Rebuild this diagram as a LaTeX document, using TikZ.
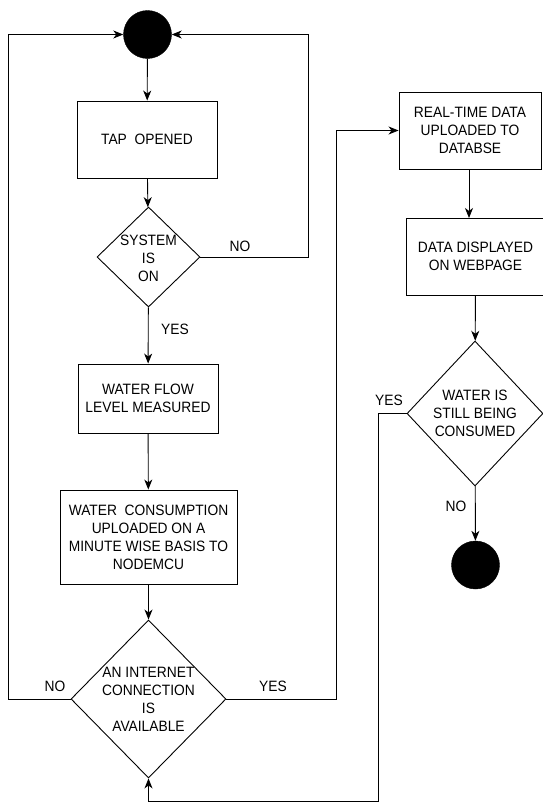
\documentclass[tikz,border=0pt]{standalone}
\usepackage{fontspec}
\setmainfont{Liberation Sans}[FakeStretch=0.92]
\usetikzlibrary{shapes.geometric,arrows.meta}
\begin{document}
\begin{tikzpicture}[x=1pt,y=-1pt,
  every node/.style={font=\fontsize{15}{18}\selectfont, text=black},
  line/.style={draw=black, line width=0.9pt},
  arr/.style={line, -{Stealth[length=10pt,width=8pt,inset=3pt]}},
  procbox/.style={draw=black, line width=0.9pt, rectangle, align=center, inner sep=0pt},
  decide/.style={draw=black, line width=0.9pt, diamond, inner sep=0pt},
  dot/.style={circle, fill=black, draw=black, minimum size=48pt, inner sep=0pt},
  lbl/.style={inner sep=0pt}]
\useasboundingbox (0,0) rectangle (542,803);
\fill[white] (0,0) rectangle (542,803);

% nodes
\node[dot] (start) at (147.5,34.5) {};
\node[procbox, minimum width=140pt, minimum height=77pt] (tap) at (147,139.5) {TAP\ \ OPENED};
\node[decide, minimum width=103pt, minimum height=100pt] (sys) at (148.5,257) {};
\node[align=center, inner sep=0pt] (syst) at (148.5,258) {SYSTEM\\IS\\ON};
\node[procbox, minimum width=140pt, minimum height=69pt] (flow) at (148,398.5) {WATER FLOW\\LEVEL MEASURED};
\node[procbox, minimum width=177pt, minimum height=94pt] (cons) at (148.5,537) {WATER\ \ CONSUMPTION\\UPLOADED ON A\\MINUTE WISE BASIS TO\\NODEMCU};
\node[decide, minimum width=155pt, minimum height=158pt] (inet) at (148.5,699) {};
\node[align=center, inner sep=0pt] (inett) at (148.5,699.5) {AN INTERNET\\CONNECTION\\IS\\AVAILABLE};
\node[procbox, minimum width=142pt, minimum height=77pt] (real) at (470,130.5) {REAL-TIME DATA\\UPLOADED TO\\DATABSE};
\node[procbox, minimum width=139pt, minimum height=77pt] (disp) at (475.5,256.5) {DATA DISPLAYED\\ON WEBPAGE};
\node[decide, minimum width=136pt, minimum height=145pt] (wdia) at (475,413.5) {};
\node[align=center, inner sep=0pt] (wdiat) at (475,413.5) {WATER IS\\STILL BEING\\CONSUMED};
\node[dot] (end) at (475.5,565) {};

% coordinates
\coordinate (c1) at (308,257);
\coordinate (c2) at (308,34.5);
\coordinate (c3) at (8,699);
\coordinate (c4) at (8,34.5);
\coordinate (c5) at (336,699);
\coordinate (c6) at (336,130.5);
\coordinate (c7) at (378,413.5);
\coordinate (c8) at (378,801.5);
\coordinate (c9) at (148.5,801.5);

% connectors
\draw[arr] (start) -- (tap);
\draw[arr] (tap) -- (sys);
\draw[arr] (sys) -- (flow);
\draw[arr] (flow) -- (cons);
\draw[arr] (cons) -- (inet);
\draw[arr] (sys.east) -- (c1) -- (c2) -- (start.east);
\draw[arr] (inet.west) -- (c3) -- (c4) -- (start.west);
\draw[arr] (inet.east) -- (c5) -- (c6) -- (real.west);
\draw[arr] (real.south -| 469,0) -- (469,218);
\draw[arr] (disp) -- (wdia);
\draw[arr] (wdia.west) -- (c7) -- (c8) -- (c9) -- (inet.south);
\draw[arr] (wdia) -- (end);

% labels
\node[lbl] (no1) at (240,246) {NO};
\node[lbl] (yes1) at (175,329) {YES};
\node[lbl] (no2) at (55,686) {NO};
\node[lbl] (yes2) at (273,686) {YES};
\node[lbl] (yes3) at (389,400) {YES};
\node[lbl] (no3) at (456,506) {NO};
\end{tikzpicture}
\end{document}
